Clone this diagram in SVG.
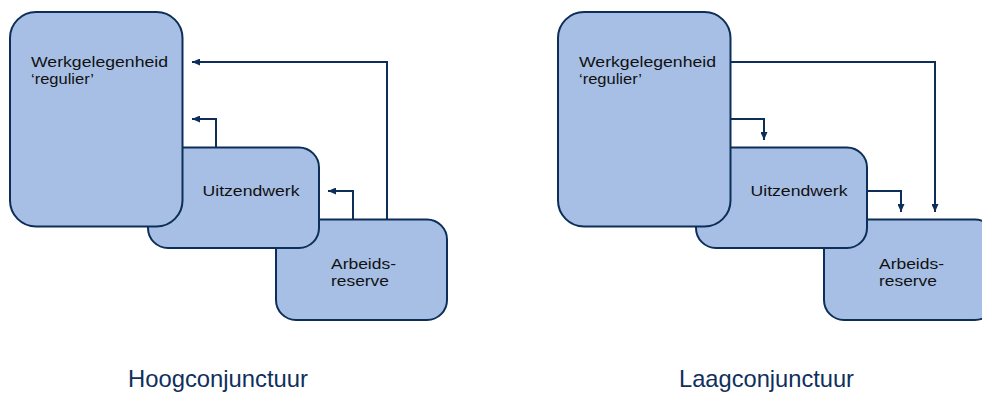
<svg xmlns="http://www.w3.org/2000/svg" width="982" height="393" viewBox="0 0 982 393">
<style>
.box{fill:#a7bfe5;stroke:#0d2e58;stroke-width:2}
.lbl{font-family:"Liberation Sans",Arial,sans-serif;font-size:15px;fill:#111111}
.cap{font-family:"Liberation Sans",Arial,sans-serif;font-size:24px;fill:#0f2f5c}
.con{fill:none;stroke:#0d2e58;stroke-width:2}
</style>
<defs>
<marker id="ah" viewBox="0 0 8 7" refX="8" refY="3.5" markerWidth="8" markerHeight="7" markerUnits="userSpaceOnUse" orient="auto">
<path d="M0,0 L8,3.5 L0,7 z" fill="#0d2e58"/>
</marker>
</defs>
<rect width="982" height="393" fill="#ffffff"/>
<g id="left-arbeidsreserve">
<rect class="box" x="276" y="219.5" width="171" height="100.5" rx="20"/>
<text class="lbl" x="331" y="268.5" textLength="65" lengthAdjust="spacingAndGlyphs">Arbeids-</text>
<text class="lbl" x="331" y="286" textLength="58" lengthAdjust="spacingAndGlyphs">reserve</text>
</g>
<g id="left-uitzendwerk">
<rect class="box" x="148" y="147.5" width="171" height="100.5" rx="20"/>
<text class="lbl" x="202.5" y="196" textLength="97" lengthAdjust="spacingAndGlyphs">Uitzendwerk</text>
</g>
<g id="left-werkgelegenheid">
<rect class="box" x="10" y="12" width="172.5" height="214.5" rx="26"/>
<text class="lbl" x="31" y="67" textLength="137" lengthAdjust="spacingAndGlyphs">Werkgelegenheid</text>
<text class="lbl" x="31" y="84" textLength="63" lengthAdjust="spacingAndGlyphs">‘regulier’</text>
</g>
<g id="right-arbeidsreserve">
<rect class="box" x="824" y="219.5" width="171" height="100.5" rx="20"/>
<text class="lbl" x="879" y="268.5" textLength="65" lengthAdjust="spacingAndGlyphs">Arbeids-</text>
<text class="lbl" x="879" y="286" textLength="58" lengthAdjust="spacingAndGlyphs">reserve</text>
</g>
<g id="right-uitzendwerk">
<rect class="box" x="696" y="147.5" width="171" height="100.5" rx="20"/>
<text class="lbl" x="750.5" y="196" textLength="97" lengthAdjust="spacingAndGlyphs">Uitzendwerk</text>
</g>
<g id="right-werkgelegenheid">
<rect class="box" x="558" y="12" width="172.5" height="214.5" rx="26"/>
<text class="lbl" x="579" y="67" textLength="137" lengthAdjust="spacingAndGlyphs">Werkgelegenheid</text>
<text class="lbl" x="579" y="84" textLength="63" lengthAdjust="spacingAndGlyphs">‘regulier’</text>
</g>
<g id="connectors">
<path class="con" d="M387,219 V62 H192" marker-end="url(#ah)"/>
<path class="con" d="M216,147 V119 H192" marker-end="url(#ah)"/>
<path class="con" d="M353,219 V191 H328" marker-end="url(#ah)"/>
<path class="con" d="M731,62 H935 V212" marker-end="url(#ah)"/>
<path class="con" d="M731,119 H764 V140" marker-end="url(#ah)"/>
<path class="con" d="M868,191 H901 V212" marker-end="url(#ah)"/>
</g>
<g id="captions">
<text class="cap" x="128" y="387" textLength="180" lengthAdjust="spacingAndGlyphs">Hoogconjunctuur</text>
<text class="cap" x="679" y="387" textLength="175" lengthAdjust="spacingAndGlyphs">Laagconjunctuur</text>
</g>
</svg>
